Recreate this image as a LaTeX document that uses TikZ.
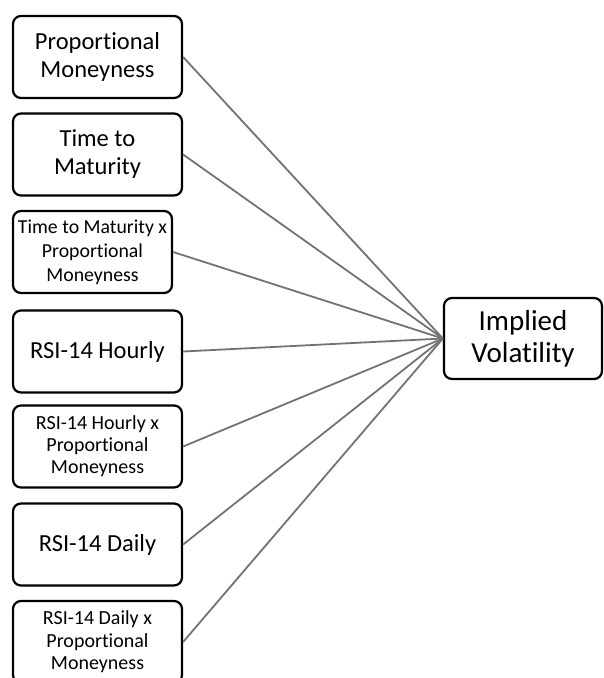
\documentclass[tikz,border=0pt]{standalone}
\usepackage{fontspec}
\setmainfont{Carlito}[RawFeature={-liga;-clig;-calt;-dlig}]
\begin{document}
\begin{tikzpicture}[x=1pt,y=-1pt,
  box/.style={draw=black, line width=2.2pt, rounded corners=8pt, fill=white,
    minimum width=169pt, minimum height=82pt, inner sep=0pt, align=center},
  bigtxt/.style={font=\fontsize{24.5}{28}\selectfont},
  smalltxt/.style={font=\fontsize{20}{23}\selectfont},
  link/.style={draw=black!55, line width=1.8pt}]
\clip (0,0) rectangle (604,678);
\fill[white] (0,0) rectangle (604,678);
\node[box,smalltxt,minimum width=159pt,font=\fontsize{19.8}{24}\selectfont] (ttmx) at (92.5,252) {Time to Maturity x\\Proportional\\Moneyness};
\node[box,bigtxt] (pm) at (97.5,57) {Proportional\\Moneyness};
\node[box,bigtxt] (ttm) at (97.5,154.5) {Time to\\Maturity};
\node[box,bigtxt] (rh) at (97.5,351.5) {RSI-14 Hourly};
\node[box,smalltxt,font=\fontsize{20}{22}\selectfont] (rhx) at (97.5,446.5) {RSI-14 Hourly x\\Proportional\\Moneyness};
\node[box,bigtxt] (rd) at (97.5,544.5) {RSI-14 Daily};
\node[box,smalltxt,font=\fontsize{20}{22.5}\selectfont] (rdx) at (97.5,642) {RSI-14 Daily x\\Proportional\\Moneyness};
\node[box,minimum width=158pt,minimum height=81pt,font=\fontsize{29}{32}\selectfont] (iv) at (523,338.5) {Implied\\Volatility};
\foreach \n in {pm,ttm,ttmx,rh,rhx,rd,rdx}{
  \draw[link] (\n.east) -- (iv.west);
}
\end{tikzpicture}
\end{document}
